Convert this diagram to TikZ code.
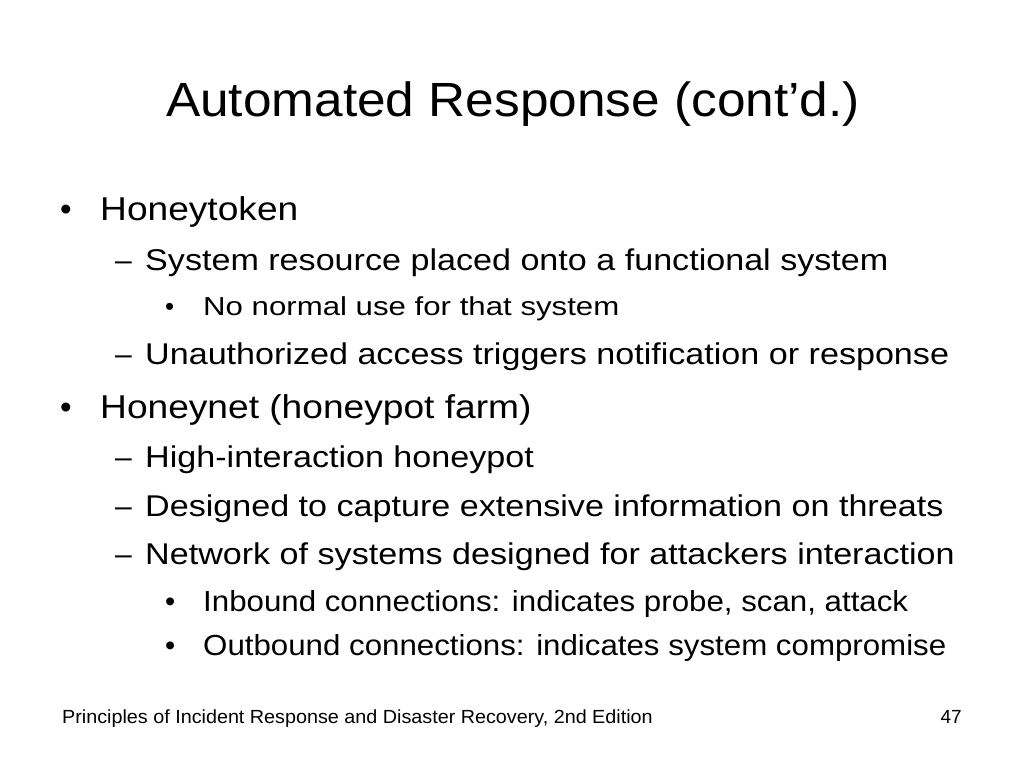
\documentclass[tikz,border=0pt]{standalone}
\usepackage{fontspec}
\setmainfont{Liberation Sans}
\newcommand{\stretchx}[2]{\scalebox{#1}[1]{#2}}
\begin{document}
\begin{tikzpicture}[x=1pt,y=-1pt,
  t/.style={anchor=base west,inner sep=0pt},
  lone/.style={t,font=\fontsize{33}{33}\selectfont},
  ltwo/.style={t,font=\fontsize{30}{30}\selectfont},
  lthree/.style={t,font=\fontsize{26}{26}\selectfont},
  lthreeb/.style={t,font=\fontsize{29}{29}\selectfont}]
\useasboundingbox (0,0) rectangle (1024,768);
\node[anchor=base,inner sep=0pt,font=\fontsize{48}{48}\selectfont] (title) at (513,116) {\stretchx{1.07}{Automated Response (cont’d.)}};
\node[lone] (b1) at (60,220) {•}; \node[lone] (h1) at (100,220) {\stretchx{1.125}{Honeytoken}};
\node[ltwo] (d1) at (115,270) {–}; \node[ltwo] (s1) at (145,270) {\stretchx{1.137}{System resource placed onto a functional system}};
\node[lthree] (b2) at (165,315) {•}; \node[lthree] (n1) at (203,315) {\stretchx{1.2}{No normal use for that system}};
\node[ltwo] (d2) at (115,364) {–}; \node[ltwo] (s2) at (145,364) {\stretchx{1.137}{Unauthorized access triggers notification or response}};
\node[lone] (b3) at (60,418) {•}; \node[lone] (h2) at (100,418) {\stretchx{1.125}{Honeynet (honeypot farm)}};
\node[ltwo] (d3) at (115,467) {–}; \node[ltwo] (s3) at (145,467) {\stretchx{1.137}{High-interaction honeypot}};
\node[ltwo] (d4) at (115,516) {–}; \node[ltwo] (s4) at (145,516) {\stretchx{1.137}{Designed to capture extensive information on threats}};
\node[ltwo] (d5) at (115,564) {–}; \node[ltwo] (s5) at (145,564) {\stretchx{1.137}{Network of systems designed for attackers interaction}};
\node[lthreeb] (b4) at (165,611) {•}; \node[lthreeb] (n2) at (203,611) {\stretchx{1.078}{Inbound connections: indicates probe, scan, attack}};
\node[lthreeb] (b5) at (165,655) {•}; \node[lthreeb] (n3) at (203,655) {\stretchx{1.078}{Outbound connections: indicates system compromise}};
\node[t,font=\fontsize{19}{19}\selectfont] (foot) at (62,723) {\stretchx{1.04}{Principles of Incident Response and Disaster Recovery, 2nd Edition}};
\node[anchor=base east,inner sep=0pt,font=\fontsize{19}{19}\selectfont] (pg) at (962,723) {47};
\end{tikzpicture}
\end{document}
